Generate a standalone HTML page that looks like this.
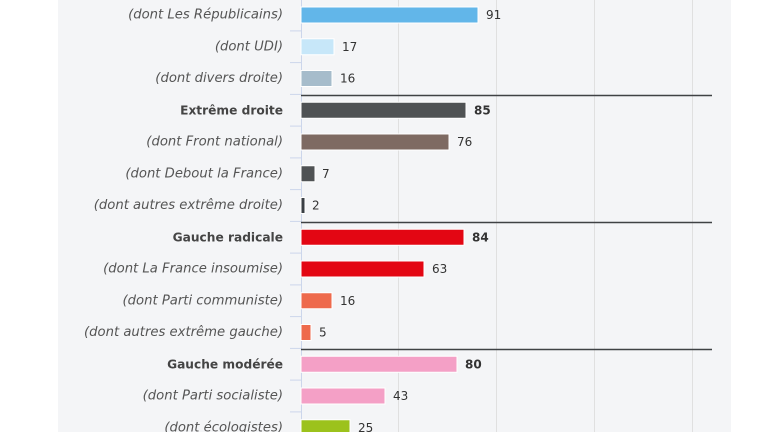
<!DOCTYPE html><html><head><style>body{margin:0;background:#fff}</style></head><body>
<svg width="770" height="432" xmlns="http://www.w3.org/2000/svg" style="display:block;font-family:'DejaVu Sans',sans-serif">
<rect x="58" y="0" width="673" height="432" fill="#f4f5f7"/>
<g stroke="#e0e0e0" stroke-width="1">
<line x1="398.5" y1="0" x2="398.5" y2="432"/><line x1="496.5" y1="0" x2="496.5" y2="432"/><line x1="594.5" y1="0" x2="594.5" y2="432"/><line x1="692.5" y1="0" x2="692.5" y2="432"/>
</g>
<line x1="301.5" y1="0" x2="301.5" y2="432" stroke="#ccd6eb"/>
<g stroke="#ccd6eb">
<line x1="290" y1="30.9" x2="301" y2="30.9"/><line x1="290" y1="62.6" x2="301" y2="62.6"/><line x1="290" y1="94.4" x2="301" y2="94.4"/><line x1="290" y1="126.1" x2="301" y2="126.1"/><line x1="290" y1="157.9" x2="301" y2="157.9"/><line x1="290" y1="189.6" x2="301" y2="189.6"/><line x1="290" y1="221.4" x2="301" y2="221.4"/><line x1="290" y1="253.1" x2="301" y2="253.1"/><line x1="290" y1="284.9" x2="301" y2="284.9"/><line x1="290" y1="316.6" x2="301" y2="316.6"/><line x1="290" y1="348.4" x2="301" y2="348.4"/><line x1="290" y1="380.1" x2="301" y2="380.1"/><line x1="290" y1="411.9" x2="301" y2="411.9"/>
</g>
<g stroke="#3f4244" stroke-width="1.5">
<line x1="301" y1="95.5" x2="712" y2="95.5"/><line x1="301" y1="222.5" x2="712" y2="222.5"/><line x1="301" y1="349.5" x2="712" y2="349.5"/>
</g>
<g stroke="#fff" stroke-width="1">
<rect x="301" y="7" width="177" height="16" fill="#62b6e9"/>
<rect x="301" y="38.75" width="33" height="16" fill="#c7e7f9"/>
<rect x="301" y="70.5" width="31" height="16" fill="#a6bccb"/>
<rect x="301" y="102.25" width="165" height="16" fill="#4f5254"/>
<rect x="301" y="134" width="148" height="16" fill="#7e6a62"/>
<rect x="301" y="165.75" width="14" height="16" fill="#4f5254"/>
<rect x="301" y="197.5" width="4" height="16" fill="#3a3f44"/>
<rect x="301" y="229.25" width="163" height="16" fill="#e30613"/>
<rect x="301" y="261" width="123" height="16" fill="#e30613"/>
<rect x="301" y="292.75" width="31" height="16" fill="#ee6a4c"/>
<rect x="301" y="324.5" width="10" height="16" fill="#ee6a4c"/>
<rect x="301" y="356.25" width="156" height="16" fill="#f4a0c6"/>
<rect x="301" y="388" width="84" height="16" fill="#f4a0c6"/>
<rect x="301" y="419.75" width="49" height="16" fill="#9cc21c"/>
</g>
<g font-size="12" fill="#333" dominant-baseline="central">
<text x="486" y="15">91</text><text x="342" y="46.75">17</text><text x="340" y="78.5">16</text>
<text x="474" y="110.25" font-weight="bold">85</text><text x="457" y="142">76</text><text x="322" y="173.75">7</text><text x="312" y="205.5">2</text>
<text x="472" y="237.25" font-weight="bold">84</text><text x="432" y="269">63</text><text x="340" y="300.75">16</text><text x="319" y="332.5">5</text>
<text x="465" y="364.25" font-weight="bold">80</text><text x="393" y="396">43</text><text x="358" y="427.75">25</text>
</g>
<g font-size="13.2" fill="#555" text-anchor="end" dominant-baseline="central" font-style="italic">
<text x="283" y="15">(dont Les Républicains)</text>
<text x="283" y="46.75">(dont UDI)</text>
<text x="283" y="78.5">(dont divers droite)</text>
<text x="283" y="142">(dont Front national)</text>
<text x="283" y="173.75">(dont Debout la France)</text>
<text x="283" y="205.5">(dont autres extrême droite)</text>
<text x="283" y="269">(dont La France insoumise)</text>
<text x="283" y="300.75">(dont Parti communiste)</text>
<text x="283" y="332.5">(dont autres extrême gauche)</text>
<text x="283" y="396">(dont Parti socialiste)</text>
<text x="283" y="427.75">(dont écologistes)</text>
</g>
<g font-size="12.2" fill="#444" text-anchor="end" dominant-baseline="central" font-weight="bold">
<text x="283" y="110.25">Extrême droite</text>
<text x="283" y="237.25">Gauche radicale</text>
<text x="283" y="364.25">Gauche modérée</text>
</g>
</svg></body></html>
